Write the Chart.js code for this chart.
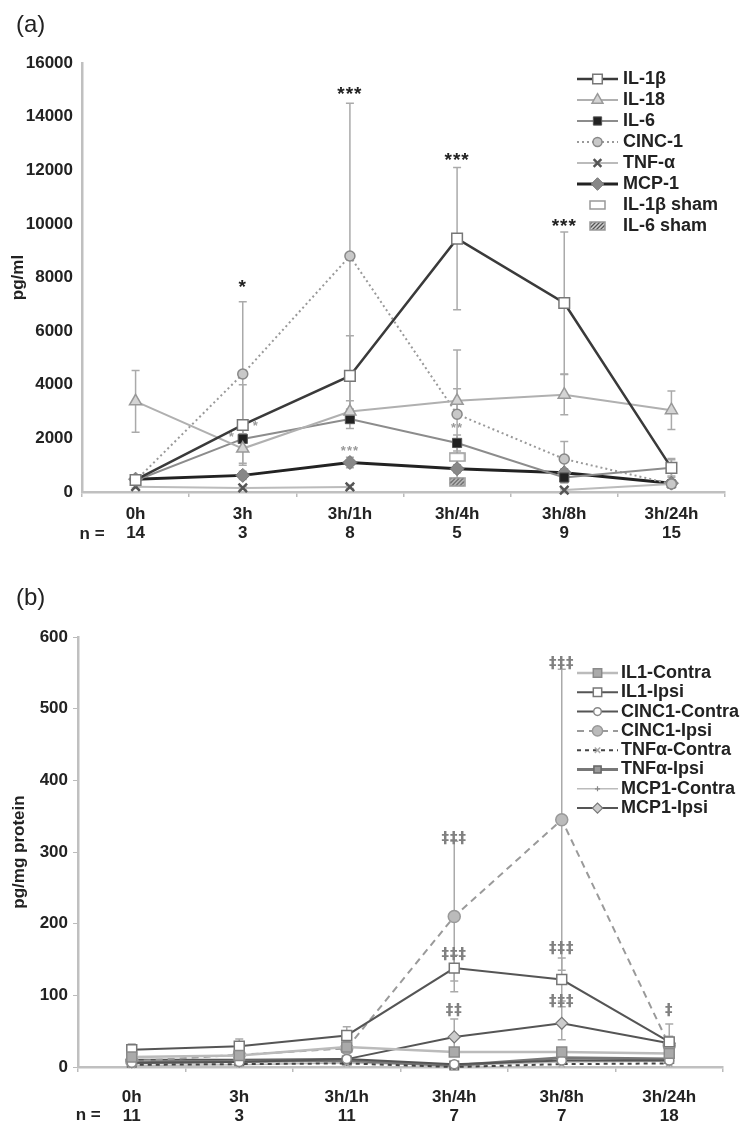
<!DOCTYPE html>
<html>
<head>
<meta charset="utf-8">
<script src="https://cdn.jsdelivr.net/npm/chart.js"></script>
<style>
  html, body { margin: 0; padding: 0; background: #fff; }
  #wrap { position: relative; width: 750px; height: 1131px; }
  .panel { position: absolute; left: 0; width: 750px; }
  #panelA { top: 0; height: 560px; }
  #panelB { top: 560px; height: 571px; }
</style>
</head>
<body>
<div id="wrap">
  <div class="panel" id="panelA"><canvas id="chartA" width="750" height="560"></canvas></div>
  <div class="panel" id="panelB"><canvas id="chartB" width="750" height="571"></canvas></div>
</div>
<script>
// ---- data, panel (a): pg/ml in CSF
const hours = ['0h', '3h', '3h/1h', '3h/4h', '3h/8h', '3h/24h'];
const nA = ['14', '3', '8', '5', '9', '15'];
const nB = ['11', '3', '11', '7', '7', '18'];

const il1b     = [450, 2500, 4330, 9450, 7050, 900];
const il1bErr  = [80, 1500, 1500, 2650, 2650, 350];
const il18     = [3380, 1620, 3000, 3400, 3630, 3050];
const il18Err  = [1150, 550, 400, 450, 750, 720];
const il6      = [430, 1980, 2720, 1830, 540, 900];
const il6Err   = [100, 400, 350, 300, 200, 300];
const cinc1    = [420, 4400, 8800, 2900, 1230, 300];
const cinc1Err = [80, 2700, 5700, 2400, 650, 100];
const tnfa     = [200, 150, 190, null, 70, 300];
const tnfaErr  = [50, 50, 60, null, 40, 60];
const mcp1     = [480, 620, 1100, 870, 720, 330];
const mcp1Err  = [100, 150, 200, 150, 150, 80];
const il1bSham = [null, null, null, 1300, null, null];
const il6Sham  = [null, null, null, 380, null, null];

// significance marks, panel (a)
const sigA      = ['*', '***', '***', '***'];
const sigAAt    = [1, 2, 3, 4];
const sigAVal   = [7600, 14800, 12350, 9900];
const sigA2     = ['*', '*', '***', '**'];
const sigA2At   = [1, 1, 2, 3];
const sigA2Val  = [2450, 2050, 1500, 2380];

// ---- data, panel (b): pg/mg protein
const il1Contra    = [14, 16, 28, 21, 21, 19];
const il1ContraErr = [4, 4, 6, 5, 5, 4];
const il1Ipsi      = [24, 29, 44, 138, 122, 35];
const il1IpsiErr   = [8, 10, 12, 18, 30, 8];
const cincContra   = [6, 7, 11, 4, 9, 9];
const cincContraErr= [3, 3, 4, 3, 4, 4];
const cincIpsi     = [8, 17, 26, 210, 345, 30];
const cincIpsiErr  = [5, 8, 10, 105, 210, 30];
const tnfContra    = [3, 4, 5, 0, 4, 5];
const tnfIpsi      = [6, 8, 9, 2, 13, 11];
const mcpContra    = [2, 3, 6, 2, 7, 8];
const mcpIpsi      = [10, 10, 11, 42, 61, 33];
const mcpIpsiErr   = [3, 3, 4, 25, 23, 8];

const sigB    = ['‡‡‡', '‡‡‡', '‡‡', '‡‡‡', '‡‡‡', '‡‡‡', '‡'];
const sigBAt  = [3, 3, 3, 4, 4, 4, 5];
const sigBVal = [318, 156, 78, 562, 165, 91, 78];

Chart.defaults.font.family = "'Liberation Sans', Arial, sans-serif";
Chart.defaults.color = '#222';

//--- Internal functions
function swatch(hatched) {
    const c = document.createElement('canvas');
    c.width = 17; c.height = 10;
    const g = c.getContext('2d');
    g.fillStyle = hatched ? '#d0d0d0' : '#fff';
    g.fillRect(1, 1, 15, 8);
    if (hatched) {
        g.save();
        g.beginPath(); g.rect(1, 1, 15, 8); g.clip();
        g.strokeStyle = '#555'; g.lineWidth = 1.3;
        for (let k = -10; k < 24; k += 4) {
            g.beginPath(); g.moveTo(k, 10); g.lineTo(k + 10, 0); g.stroke();
        }
        g.restore();
    }
    g.strokeStyle = '#999'; g.lineWidth = 1.5;
    g.strokeRect(1, 1, 15, 8);
    return c;
}

const drawPoint = (Chart.helpers && Chart.helpers.drawPoint) || function (ctx, o, x, y) {
    ctx.beginPath(); ctx.arc(x, y, o.radius, 0, Math.PI * 2); ctx.fill(); ctx.stroke();
};

const errorBars = {
    id: 'errorBars',
    beforeDatasetsDraw(chart, args, opts) {
        const ctx = chart.ctx, xs = chart.scales.x, ys = chart.scales.y;
        ctx.save();
        ctx.strokeStyle = opts.color;
        ctx.lineWidth = opts.width;
        chart.data.datasets.forEach(function (ds) {
            if (!ds.errors) return;
            ds.data.forEach(function (v, i) {
                const e = ds.errors[i];
                if (v == null || e == null) return;
                const px = xs.getPixelForValue(i);
                const top = ys.getPixelForValue(v + e);
                const bot = ys.getPixelForValue(Math.max(v - e, 0));
                ctx.beginPath();
                ctx.moveTo(px, top); ctx.lineTo(px, bot);
                ctx.moveTo(px - opts.cap, top); ctx.lineTo(px + opts.cap, top);
                if (v - e > 0) { ctx.moveTo(px - opts.cap, bot); ctx.lineTo(px + opts.cap, bot); }
                ctx.stroke();
            });
        });
        ctx.restore();
    }
};

const sideLegend = {
    id: 'sideLegend',
    afterDraw(chart, args, opts) {
        const ctx = chart.ctx;
        ctx.save();
        ctx.font = opts.font;
        ctx.textBaseline = 'middle';
        ctx.textAlign = 'left';
        chart.data.datasets.forEach(function (ds, i) {
            const y = opts.top + i * opts.step;
            if (ds.showLine !== false) {
                ctx.strokeStyle = ds.borderColor;
                ctx.lineWidth = ds.borderWidth;
                ctx.setLineDash(ds.borderDash || []);
                ctx.beginPath(); ctx.moveTo(opts.x0, y); ctx.lineTo(opts.x1, y); ctx.stroke();
                ctx.setLineDash([]);
            }
            ctx.fillStyle = ds.pointBackgroundColor;
            ctx.strokeStyle = ds.pointBorderColor;
            ctx.lineWidth = ds.pointBorderWidth;
            drawPoint(ctx, { pointStyle: ds.pointStyle, radius: ds.pointRadius * opts.scale, borderWidth: ds.pointBorderWidth, rotation: 0 }, (opts.x0 + opts.x1) / 2, y);
            ctx.fillStyle = '#222';
            ctx.fillText(ds.label, opts.textX, y);
        });
        ctx.restore();
    }
};

const panelText = {
    id: 'panelText',
    afterDraw(chart, args, opts) {
        const ctx = chart.ctx, xs = chart.scales.x, ys = chart.scales.y;
        ctx.save();
        ctx.textBaseline = 'middle';
        ctx.fillStyle = '#222';
        ctx.font = opts.panelFont;
        ctx.textAlign = 'left';
        ctx.fillText(opts.panel, opts.panelX, opts.panelY);
        ctx.font = 'bold 17px "Liberation Sans", Arial, sans-serif';
        ctx.textAlign = 'right';
        ctx.fillText('n =', xs.getPixelForValue(0) - 31, opts.nY);
        ctx.textAlign = 'center';
        if ('letterSpacing' in ctx) ctx.letterSpacing = '1px';
        opts.marks.forEach(function (m) {
            ctx.font = m.font;
            ctx.fillStyle = m.color;
            m.text.forEach(function (t, k) {
                const dx = m.dx ? m.dx[k] : 0;
                ctx.fillText(t, xs.getPixelForValue(m.at[k]) + dx, ys.getPixelForValue(m.value[k]));
            });
        });
        ctx.restore();
    }
};

function xAxis(counts, pad, h) {
    return {
        offset: true,
        grid: { display: true, drawOnChartArea: false, drawTicks: true, tickLength: 5, color: '#bbb', lineWidth: 1.5, offset: true },
        border: { display: true, color: '#c0c0c0', width: 2.5 },
        ticks: { color: '#222', font: { size: 17, weight: 'bold', lineHeight: 1.1 }, padding: pad, maxRotation: 0, autoSkip: false },
        afterFit: function (s) { s.height = h; }
    };
}

function ds(label, data, errors, line, point) {
    return Object.assign({ label: label, data: data, errors: errors }, line, point);
}

const shamOpen = swatch(false);
const shamHatch = swatch(true);

// ---- chart (a)
new Chart(document.getElementById('chartA'), {
    type: 'line',
    data: {
        labels: hours.map(function (h, i) { return [h, nA[i]]; }),
        datasets: [
            ds('IL-1β', il1b, il1bErr, { borderColor: '#3a3a3a', borderWidth: 2.5 }, { pointStyle: 'rect', pointRadius: 7.5, pointBackgroundColor: '#fff', pointBorderColor: '#777', pointBorderWidth: 1.5 }),
            ds('IL-18', il18, il18Err, { borderColor: '#b0b0b0', borderWidth: 2 }, { pointStyle: 'triangle', pointRadius: 7, pointBackgroundColor: '#d4d4d4', pointBorderColor: '#999', pointBorderWidth: 1.5 }),
            ds('IL-6', il6, il6Err, { borderColor: '#8c8c8c', borderWidth: 2 }, { pointStyle: 'rect', pointRadius: 6.5, pointBackgroundColor: '#222', pointBorderColor: '#555', pointBorderWidth: 1 }),
            ds('CINC-1', cinc1, cinc1Err, { borderColor: '#999', borderWidth: 2, borderDash: [2, 3] }, { pointStyle: 'circle', pointRadius: 5, pointBackgroundColor: '#c8c8c8', pointBorderColor: '#888', pointBorderWidth: 1.5 }),
            ds('TNF-α', tnfa, tnfaErr, { borderColor: '#bbb', borderWidth: 2 }, { pointStyle: 'crossRot', pointRadius: 6, pointBackgroundColor: '#555', pointBorderColor: '#555', pointBorderWidth: 2.5 }),
            ds('MCP-1', mcp1, mcp1Err, { borderColor: '#222', borderWidth: 3 }, { pointStyle: 'rectRot', pointRadius: 7, pointBackgroundColor: '#888', pointBorderColor: '#777', pointBorderWidth: 1 }),
            ds('IL-1β sham', il1bSham, null, { showLine: false, borderColor: '#999', borderWidth: 1 }, { pointStyle: shamOpen, pointRadius: 6, pointBackgroundColor: '#fff', pointBorderColor: '#999', pointBorderWidth: 1 }),
            ds('IL-6 sham', il6Sham, null, { showLine: false, borderColor: '#999', borderWidth: 1 }, { pointStyle: shamHatch, pointRadius: 6, pointBackgroundColor: '#ccc', pointBorderColor: '#999', pointBorderWidth: 1 })
        ]
    },
    options: {
        responsive: false,
        animation: false,
        events: [],
        layout: { padding: { top: 63, right: 25, left: 0, bottom: 0 } },
        datasets: { line: { clip: false, pointHoverRadius: 0 } },
        plugins: {
            legend: { display: false },
            tooltip: { enabled: false },
            errorBars: { color: '#aaa', width: 1.5, cap: 4 },
            sideLegend: { font: 'bold 18px "Liberation Sans", Arial, sans-serif', x0: 577, x1: 618, textX: 623, top: 79, step: 21, scale: 0.9 },
            panelText: {
                panel: '(a)', panelFont: '24px "Liberation Sans", Arial, sans-serif', panelX: 16, panelY: 25, nY: 534,
                marks: [
                    { text: sigA, at: sigAAt, value: sigAVal, font: 'bold 19px "Liberation Sans", Arial, sans-serif', color: '#222' },
                    { text: sigA2, at: sigA2At, value: sigA2Val, dx: [13, -11, 0, 0], font: 'bold 13px "Liberation Sans", Arial, sans-serif', color: '#999' }
                ]
            }
        },
        scales: {
            x: xAxis(nA, 8, 68),
            y: {
                min: 0, max: 16000,
                ticks: { stepSize: 2000, color: '#222', font: { size: 17, weight: 'bold' }, padding: 9, callback: function (v) { return String(v); } },
                grid: { drawOnChartArea: false, drawTicks: false },
                border: { display: true, color: '#c0c0c0', width: 2.5 },
                title: { display: true, text: 'pg/ml', color: '#222', font: { size: 17, weight: 'bold' }, padding: { top: 8, bottom: 0 } },
                afterFit: function (s) { s.width = 82; }
            }
        }
    },
    plugins: [errorBars, sideLegend, panelText]
});

// ---- chart (b)
new Chart(document.getElementById('chartB'), {
    type: 'line',
    data: {
        labels: hours.map(function (h, i) { return [h, nB[i]]; }),
        datasets: [
            ds('IL1-Contra', il1Contra, il1ContraErr, { borderColor: '#bbb', borderWidth: 2.5 }, { pointStyle: 'rect', pointRadius: 7, pointBackgroundColor: '#aaa', pointBorderColor: '#8a8a8a', pointBorderWidth: 1.5 }),
            ds('IL1-Ipsi', il1Ipsi, il1IpsiErr, { borderColor: '#555', borderWidth: 2 }, { pointStyle: 'rect', pointRadius: 7, pointBackgroundColor: '#fff', pointBorderColor: '#777', pointBorderWidth: 1.5 }),
            ds('CINC1-Contra', cincContra, cincContraErr, { borderColor: '#555', borderWidth: 2 }, { pointStyle: 'circle', pointRadius: 4.5, pointBackgroundColor: '#fff', pointBorderColor: '#888', pointBorderWidth: 1.5 }),
            ds('CINC1-Ipsi', cincIpsi, cincIpsiErr, { borderColor: '#9a9a9a', borderWidth: 2, borderDash: [7, 5] }, { pointStyle: 'circle', pointRadius: 6, pointBackgroundColor: '#bbb', pointBorderColor: '#999', pointBorderWidth: 1.5 }),
            ds('TNFα-Contra', tnfContra, null, { borderColor: '#444', borderWidth: 2, borderDash: [4, 4] }, { pointStyle: 'crossRot', pointRadius: 4.5, pointBackgroundColor: '#aaa', pointBorderColor: '#aaa', pointBorderWidth: 1.5 }),
            ds('TNFα-Ipsi', tnfIpsi, null, { borderColor: '#777', borderWidth: 3 }, { pointStyle: 'rect', pointRadius: 6, pointBackgroundColor: '#999', pointBorderColor: '#666', pointBorderWidth: 1.5 }),
            ds('MCP1-Contra', mcpContra, null, { borderColor: '#bbb', borderWidth: 1.5 }, { pointStyle: 'cross', pointRadius: 3, pointBackgroundColor: '#888', pointBorderColor: '#888', pointBorderWidth: 1.2 }),
            ds('MCP1-Ipsi', mcpIpsi, mcpIpsiErr, { borderColor: '#555', borderWidth: 2 }, { pointStyle: 'rectRot', pointRadius: 6, pointBackgroundColor: '#ccc', pointBorderColor: '#777', pointBorderWidth: 1.2 })
        ]
    },
    options: {
        responsive: false,
        animation: false,
        events: [],
        layout: { padding: { top: 77, right: 27, left: 0, bottom: 0 } },
        datasets: { line: { clip: false, pointHoverRadius: 0 } },
        plugins: {
            legend: { display: false },
            tooltip: { enabled: false },
            errorBars: { color: '#aaa', width: 1.5, cap: 4 },
            sideLegend: { font: 'bold 18px "Liberation Sans", Arial, sans-serif', x0: 577, x1: 618, textX: 621, top: 113, step: 19.3, scale: 0.85 },
            panelText: {
                panel: '(b)', panelFont: '24px "Liberation Sans", Arial, sans-serif', panelX: 16, panelY: 38, nY: 555,
                marks: [
                    { text: sigB, at: sigBAt, value: sigBVal, font: 'bold 15px "DejaVu Sans", sans-serif', color: '#808080' }
                ]
            }
        },
        scales: {
            x: xAxis(nB, 16, 64),
            y: {
                min: 0, max: 600,
                ticks: { stepSize: 100, color: '#222', font: { size: 17, weight: 'bold' }, padding: 5 },
                grid: { drawOnChartArea: false, drawTicks: true, tickLength: 5, color: '#bbb' },
                border: { display: true, color: '#c0c0c0', width: 2.5 },
                title: { display: true, text: 'pg/mg protein', color: '#222', font: { size: 17, weight: 'bold' }, padding: { top: 9, bottom: 0 } },
                afterFit: function (s) { s.width = 78; }
            }
        }
    },
    plugins: [errorBars, sideLegend, panelText]
});
</script>
</body>
</html>
